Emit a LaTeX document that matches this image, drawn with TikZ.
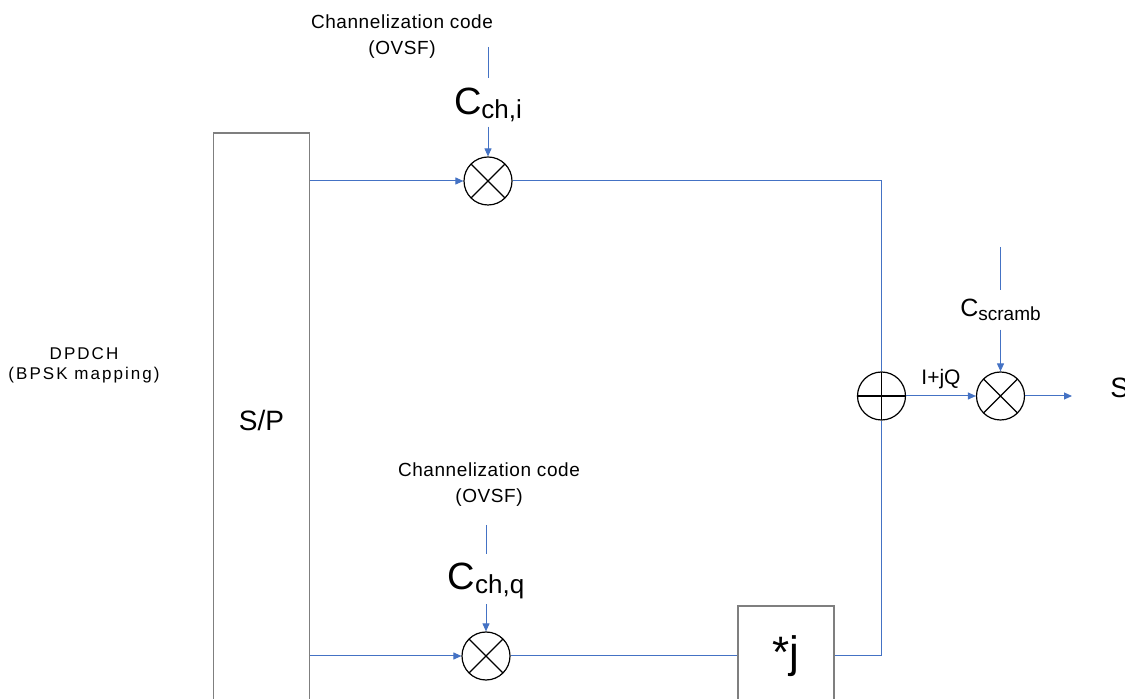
\documentclass[tikz,border=0pt]{standalone}
\usepackage{fontspec}
\setmainfont{Liberation Sans}
\newfontfamily\codefont[LetterSpace=3]{Liberation Sans}
\newfontfamily\widefont[LetterSpace=12]{Liberation Sans}
\usetikzlibrary{arrows.meta}
\usetikzlibrary{positioning}
\definecolor{linkblue}{HTML}{4472C4}
\definecolor{boxgrey}{HTML}{7F7F7F}
\newcommand{\csub}[4]{{\fontsize{#1}{#1}\selectfont C}\raisebox{-2pt}{\fontsize{#2}{#2}\selectfont #3}#4}

\begin{document}
\begin{tikzpicture}[
  x=0.5pt, y=-0.5pt,
  block/.style={rectangle, draw=boxgrey, line width=0.8pt, inner sep=0pt,
    minimum width=48pt},
  mixer/.style={circle, draw=black, line width=0.6pt, minimum size=24pt, inner sep=0pt,
    path picture={\draw[line width=0.6pt]
      (path picture bounding box.north west) -- (path picture bounding box.south east)
      (path picture bounding box.north east) -- (path picture bounding box.south west);}},
  adder/.style={circle, draw=black, line width=0.6pt, minimum size=24pt, inner sep=0pt,
    path picture={\draw[line width=0.6pt]
      (path picture bounding box.north) -- (path picture bounding box.south)
      (path picture bounding box.west) -- (path picture bounding box.east);}},
  sig/.style={draw=linkblue, line width=0.5pt},
  arrow/.style={sig, -{Triangle[length=4pt, width=3.5pt]}},
  note/.style={font=\fontsize{9.5}{13}\selectfont\codefont, align=center, inner sep=0pt},
  codelabel/.style={inner sep=0pt, anchor=base},
]
\useasboundingbox (0,0) rectangle (1125,699);
\clip (0,0) rectangle (1125,699);

% === Input and serial/parallel ===
\node[font=\fontsize{8.5}{10}\selectfont\widefont, align=center, inner sep=0pt] (dpdch) at (84,365) {DPDCH\\(BPSK mapping)};
\node[block, minimum height=287pt, font=\fontsize{14}{14}\selectfont] (sp) at (261.5,420) {S/P};

% === I branch ===
\node[mixer] (mi) at (488,181) {};
\node[note] (codei) at (402,37) {Channelization code\\(OVSF)};
\node[codelabel] (cchi) at (488,115) {\csub{19}{13}{ch,i}{}};
\coordinate (ci) at (488,47);
\draw[sig, shorten >=5pt] (ci) -- (cchi.north);
\draw[arrow, shorten <=2pt] (cchi.south) -- (mi);
\draw[arrow] (sp.east |- mi) -- (mi);

% === Q branch ===
\node[mixer] (mq) at (486,656) {};
\node[note] (codeq) at (489,485) {Channelization code\\(OVSF)};
\node[codelabel] (cchq) at (486,590) {\csub{19}{13}{ch,q}{}};
\coordinate (cq) at (486,525);
\draw[sig, shorten >=4.5pt] (cq) -- (cchq.north);
\draw[arrow, shorten <=2pt] (cchq.south) -- (mq);
\draw[arrow] (sp.east |- mq) -- (mq);
\node[block, minimum height=50pt, font=\fontsize{22}{22}\selectfont] (jbox) at (786,656) {*j};
\draw[sig] (mq) -- (jbox);

% === Sum and scrambling ===
\node[adder] (add) at (881.5,396) {};
\node[mixer] (ms) at (1000.5,396) {};
\draw[sig] (mi) -| (add);
\draw[sig] (jbox) -| (add);
\draw[arrow] (add) -- node[above=3.5pt, inner sep=0pt, font=\fontsize{10.5}{10.5}\selectfont] {I+jQ} (ms);
\node[codelabel] (cscr) at (1000.5,317) {\csub{12.5}{9.5}{scramb}{}};
\coordinate (cs) at (1000.5,247);
\draw[sig, shorten >=4.5pt] (cs) -- (cscr.north);
\draw[arrow, shorten <=4pt] (cscr.south) -- (ms);
\coordinate (out) at (1072,396);
\draw[arrow] (ms) -- (out);
\node[anchor=base west, inner sep=0pt, font=\fontsize{14}{14}\selectfont] (s) at (1110,398) {S};
\end{tikzpicture}
\end{document}
